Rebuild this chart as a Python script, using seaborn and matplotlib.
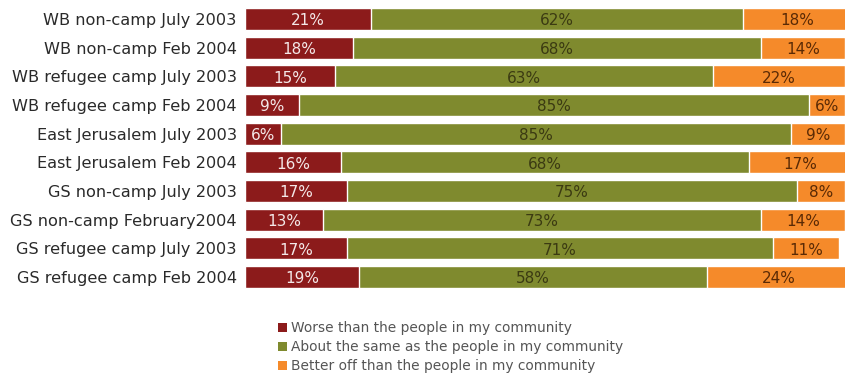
import pandas as pd
import matplotlib.pyplot as plt
import seaborn as sns
from matplotlib.patches import Patch

# Survey results (percent)
groups = [
    "WB non-camp July 2003",
    "WB non-camp Feb 2004",
    "WB refugee camp July 2003",
    "WB refugee camp Feb 2004",
    "East Jerusalem July 2003",
    "East Jerusalem Feb 2004",
    "GS non-camp July 2003",
    "GS non-camp February2004",
    "GS refugee camp July 2003",
    "GS refugee camp Feb 2004",
]
worse = [21, 18, 15, 9, 6, 16, 17, 13, 17, 19]
same = [62, 68, 63, 85, 85, 68, 75, 73, 71, 58]
better = [18, 14, 22, 6, 9, 17, 8, 14, 11, 24]

legend_labels = [
    "Worse than the people in my community",
    "About the same as the people in my community",
    "Better off than the people in my community",
]
colors = ["#8c1b1b", "#7f8a2e", "#f58a2a"]
text_colors = ["#f4e8e8", "#3b3a12", "#5a2a05"]

df = pd.DataFrame({"group": groups, "worse": worse, "same": same, "better": better})
df["cum_worse"] = df["worse"]
df["cum_same"] = df["worse"] + df["same"]
df["cum_all"] = df["cum_same"] + df["better"]

sns.set_style("white")
plt.rcParams["font.family"] = ["DejaVu Sans"]

fig = plt.figure(figsize=(8.46, 3.9), dpi=100)
ax = fig.add_axes([0.2896, 0.253, 0.7095, 0.735])

# stacked bars: draw the totals first, then overlay the shorter sums
sns.barplot(data=df, x="cum_all", y="group", color=colors[2], width=0.77,
            orient="h", ax=ax, saturation=1)
sns.barplot(data=df, x="cum_same", y="group", color=colors[1], width=0.77,
            orient="h", ax=ax, saturation=1)
sns.barplot(data=df, x="cum_worse", y="group", color=colors[0], width=0.77,
            orient="h", ax=ax, saturation=1)

# percentage labels centred in each segment
for i, row in df.iterrows():
    starts = [0, row["cum_worse"], row["cum_same"]]
    vals = [row["worse"], row["same"], row["better"]]
    for s, v, tc in zip(starts, vals, text_colors):
        x = min(s + v / 2, 100 - 2.6)
        ax.text(x, i + 0.06, f"{v}%", ha="center", va="center",
                fontsize=11, color=tc)

ax.set_xlim(0, 100)
ax.set_xlabel("")
ax.set_ylabel("")
ax.set_xticks([])
ax.tick_params(axis="y", length=0, pad=6, labelsize=11.6, labelcolor="#2a2a2a")
sns.despine(ax=ax, left=True, bottom=True)

handles = [Patch(facecolor=c, edgecolor="none") for c in colors]
fig.legend(handles, legend_labels, loc="upper left",
           bbox_to_anchor=(0.322, 0.19), frameon=False, fontsize=9.9,
           handlelength=0.65, handleheight=0.65, handletextpad=0.3,
           labelspacing=0.36, labelcolor="#555555", borderaxespad=0)

fig.savefig("out.png", dpi=100)
